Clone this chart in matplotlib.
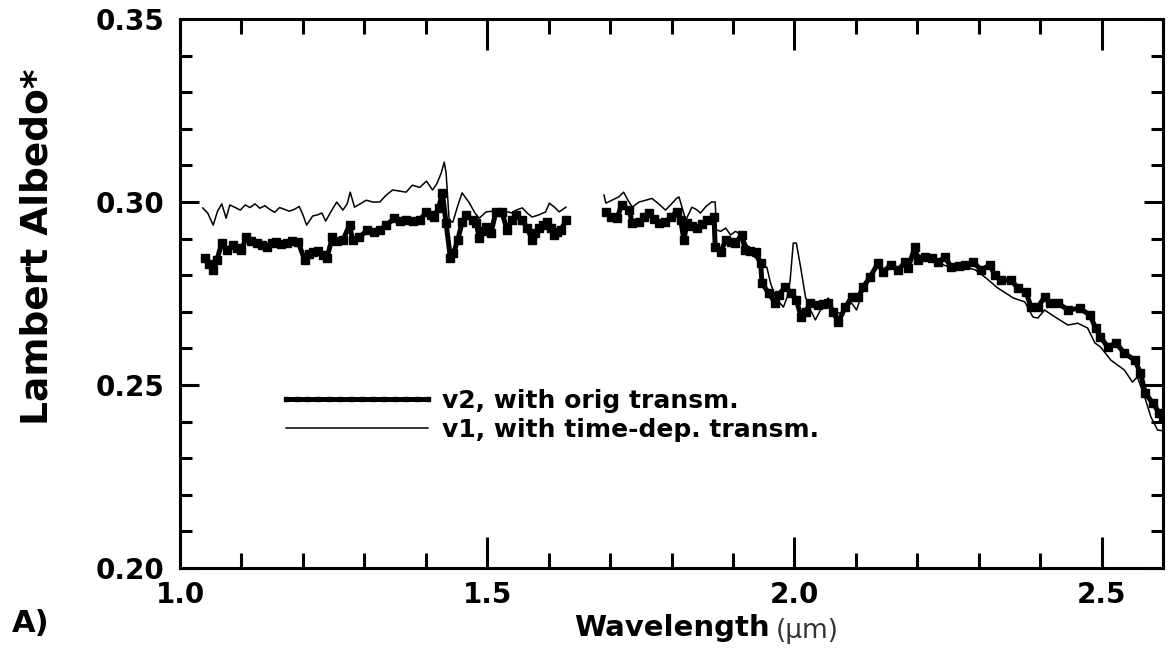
import numpy as np
import matplotlib
matplotlib.use('Agg')
import matplotlib.pyplot as plt
from matplotlib.ticker import MultipleLocator

plt.rcParams.update({
    'font.family': 'DejaVu Sans',
    'font.weight': 'bold',
})

# v2, with original transmission (thick line) -- gap between the two segments
v2_wl = [1.041, 1.047, 1.054, 1.060, 1.068, 1.076, 1.086, 1.093, 1.100, 1.108,
         1.116, 1.125, 1.133, 1.141, 1.149, 1.157, 1.165, 1.174, 1.183, 1.192,
         1.203, 1.210, 1.216, 1.224, 1.232, 1.239, 1.248, 1.256, 1.265, 1.276,
         1.281, 1.292, 1.305, 1.315, 1.325, 1.336, 1.349, 1.358, 1.368, 1.379,
         1.390, 1.401, 1.408, 1.414, 1.421, 1.427, 1.433, 1.440, 1.445, 1.452,
         1.459, 1.466, 1.476, 1.482, 1.487, 1.493, 1.498, 1.506, 1.514, 1.524,
         1.532, 1.540, 1.547, 1.557, 1.565, 1.573, 1.578, 1.584, 1.590, 1.597,
         1.603, 1.609, 1.614, 1.620, 1.628, np.nan,
         1.693, 1.701, 1.711, 1.719, 1.731, 1.736, 1.747, 1.755, 1.763, 1.771,
         1.779, 1.790, 1.799, 1.808, 1.815, 1.820, 1.825, 1.833, 1.841, 1.849,
         1.857, 1.869, 1.871, 1.880, 1.888, 1.896, 1.904, 1.914, 1.920, 1.928,
         1.937, 1.945, 1.947, 1.958, 1.969, 1.974, 1.985, 1.995, 2.003, 2.011,
         2.018, 2.026, 2.039, 2.047, 2.055, 2.063, 2.071, 2.083, 2.093, 2.104,
         2.112, 2.123, 2.136, 2.144, 2.157, 2.169, 2.180, 2.185, 2.196, 2.201,
         2.213, 2.223, 2.234, 2.245, 2.255, 2.267, 2.278, 2.291, 2.304, 2.318,
         2.326, 2.336, 2.352, 2.364, 2.377, 2.385, 2.396, 2.407, 2.416, 2.429,
         2.445, 2.464, 2.481, 2.490, 2.498, 2.510, 2.523, 2.537, 2.554, 2.563,
         2.571, 2.583, 2.594, 2.600]
v2_alb = [0.2847, 0.2830, 0.2814, 0.2842, 0.2888, 0.2869, 0.2882, 0.2875, 0.2869, 0.2904,
          0.2893, 0.2888, 0.2882, 0.2877, 0.2888, 0.2891, 0.2885, 0.2888, 0.2893, 0.2891,
          0.2842, 0.2858, 0.2863, 0.2866, 0.2855, 0.2847, 0.2904, 0.2893, 0.2896, 0.2937,
          0.2896, 0.2904, 0.2924, 0.2918, 0.2924, 0.2937, 0.2956, 0.2948, 0.2950, 0.2947,
          0.2950, 0.2973, 0.2965, 0.2959, 0.2985, 0.3025, 0.2943, 0.2847, 0.2860, 0.2896,
          0.2945, 0.2964, 0.2950, 0.2943, 0.2902, 0.2920, 0.2932, 0.2915, 0.2973, 0.2973,
          0.2924, 0.2950, 0.2964, 0.2950, 0.2930, 0.2896, 0.2915, 0.2929, 0.2938, 0.2945,
          0.2930, 0.2910, 0.2918, 0.2924, 0.2950, np.nan,
          0.2973, 0.2959, 0.2956, 0.2992, 0.2978, 0.2943, 0.2945, 0.2958, 0.2970, 0.2955,
          0.2943, 0.2945, 0.2960, 0.2973, 0.2950, 0.2896, 0.2943, 0.2935, 0.2929, 0.2940,
          0.2950, 0.2959, 0.2877, 0.2863, 0.2896, 0.2892, 0.2888, 0.2910, 0.2869, 0.2866,
          0.2863, 0.2833, 0.2779, 0.2751, 0.2724, 0.2746, 0.2768, 0.2751, 0.2732, 0.2686,
          0.2700, 0.2724, 0.2719, 0.2722, 0.2724, 0.2700, 0.2672, 0.2713, 0.2740, 0.2740,
          0.2768, 0.2795, 0.2833, 0.2809, 0.2828, 0.2814, 0.2836, 0.2820, 0.2877, 0.2842,
          0.2850, 0.2846, 0.2836, 0.2850, 0.2822, 0.2826, 0.2828, 0.2836, 0.2814, 0.2828,
          0.2801, 0.2787, 0.2787, 0.2765, 0.2754, 0.2713, 0.2713, 0.2740, 0.2724, 0.2724,
          0.2705, 0.2710, 0.2691, 0.2656, 0.2631, 0.2604, 0.2615, 0.2587, 0.2568, 0.2533,
          0.2478, 0.2451, 0.2423, 0.2410]

# v1, with time-dependent transmission (thin line)
v1_wl = [1.037, 1.045, 1.054, 1.061, 1.068, 1.075, 1.081, 1.090, 1.098, 1.106,
         1.114, 1.122, 1.130, 1.138, 1.146, 1.154, 1.162, 1.170, 1.178, 1.186,
         1.194, 1.200, 1.206, 1.216, 1.224, 1.231, 1.237, 1.246, 1.255, 1.265,
         1.272, 1.277, 1.284, 1.293, 1.303, 1.314, 1.325, 1.335, 1.346, 1.357,
         1.368, 1.378, 1.390, 1.401, 1.411, 1.418, 1.425, 1.430, 1.433, 1.438,
         1.444, 1.452, 1.459, 1.470, 1.480, 1.487, 1.498, 1.508, 1.519, 1.530,
         1.540, 1.547, 1.557, 1.565, 1.573, 1.584, 1.595, 1.601, 1.610, 1.617,
         1.628, np.nan,
         1.690, 1.693, 1.703, 1.714, 1.722, 1.729, 1.736, 1.747, 1.758, 1.768,
         1.779, 1.790, 1.800, 1.808, 1.812, 1.818, 1.823, 1.833, 1.840, 1.847,
         1.856, 1.865, 1.871, 1.873, 1.880, 1.888, 1.896, 1.904, 1.914, 1.922,
         1.930, 1.942, 1.950, 1.955, 1.961, 1.969, 1.976, 1.982, 1.988, 1.993,
         1.998, 2.003, 2.010, 2.018, 2.026, 2.034, 2.044, 2.055, 2.066, 2.076,
         2.085, 2.093, 2.101, 2.112, 2.123, 2.136, 2.144, 2.157, 2.169, 2.180,
         2.196, 2.213, 2.234, 2.255, 2.278, 2.294, 2.310, 2.331, 2.356, 2.375,
         2.388, 2.396, 2.407, 2.424, 2.445, 2.461, 2.477, 2.489, 2.498, 2.515,
         2.537, 2.550, 2.558, 2.570, 2.580, 2.591, 2.600]
v1_alb = [0.2984, 0.2970, 0.2937, 0.2975, 0.2995, 0.2956, 0.2992, 0.2985, 0.2978, 0.2992,
          0.2985, 0.2995, 0.2983, 0.2990, 0.2980, 0.2972, 0.2985, 0.2980, 0.2975, 0.2980,
          0.2988, 0.2965, 0.2937, 0.2962, 0.2965, 0.2970, 0.2948, 0.2975, 0.3000, 0.2978,
          0.2995, 0.3027, 0.2986, 0.2995, 0.3005, 0.3000, 0.3000, 0.3018, 0.3033, 0.3030,
          0.3027, 0.3046, 0.3040, 0.3057, 0.3033, 0.3050, 0.3079, 0.3109, 0.3080, 0.2950,
          0.2945, 0.2990, 0.3025, 0.3000, 0.2970, 0.2956, 0.2973, 0.2975, 0.2978, 0.2975,
          0.2970, 0.2978, 0.2984, 0.2970, 0.2959, 0.2965, 0.2973, 0.2997, 0.2985, 0.2973,
          0.2986, np.nan,
          0.3019, 0.2997, 0.3005, 0.3014, 0.3027, 0.3005, 0.2986, 0.3000, 0.3005, 0.3010,
          0.2995, 0.2978, 0.2995, 0.3010, 0.3014, 0.2980, 0.2950, 0.2986, 0.2980, 0.2970,
          0.2988, 0.3000, 0.3000, 0.2924, 0.2920, 0.2929, 0.2910, 0.2920, 0.2910, 0.2885,
          0.2861, 0.2836, 0.2822, 0.2822, 0.2779, 0.2740, 0.2725, 0.2713, 0.2740, 0.2787,
          0.2888, 0.2888, 0.2822, 0.2740, 0.2705, 0.2678, 0.2710, 0.2738, 0.2697, 0.2697,
          0.2715, 0.2724, 0.2705, 0.2760, 0.2790, 0.2828, 0.2812, 0.2825, 0.2814, 0.2832,
          0.2860, 0.2848, 0.2834, 0.2820, 0.2822, 0.2815, 0.2795, 0.2765, 0.2738, 0.2727,
          0.2686, 0.2683, 0.2705, 0.2686, 0.2664, 0.2669, 0.2656, 0.2615, 0.2604, 0.2568,
          0.2541, 0.2508, 0.2522, 0.2467, 0.2413, 0.2377, 0.2375]

labels = ['v2, with orig transm.', 'v1, with time-dep. transm.']

fig = plt.figure(figsize=(11.69, 6.56), dpi=100)
ax = fig.add_axes([0.154, 0.134, 0.841, 0.837])

ax.plot(v2_wl, v2_alb, '-', color='black', linewidth=3.6, marker='s', markersize=5.5,
        label=labels[0])
ax.plot(v1_wl, v1_alb, '-', color='black', linewidth=1.1, label=labels[1])

ax.set_xlim(1.0, 2.6)
ax.set_ylim(0.20, 0.35)
ax.xaxis.set_major_locator(MultipleLocator(0.5))
ax.xaxis.set_minor_locator(MultipleLocator(0.1))
ax.yaxis.set_major_locator(MultipleLocator(0.05))
ax.yaxis.set_minor_locator(MultipleLocator(0.01))
ax.xaxis.set_major_formatter(matplotlib.ticker.FormatStrFormatter('%.1f'))
ax.yaxis.set_major_formatter(matplotlib.ticker.FormatStrFormatter('%.2f'))

for s in ax.spines.values():
    s.set_linewidth(2.2)
ax.tick_params(which='both', direction='in', top=True, right=True, width=2.2, labelsize=20)
ax.tick_params(axis='x', which='major', length=22, pad=9)
ax.tick_params(axis='x', which='minor', length=11)
ax.tick_params(axis='y', which='major', length=14, pad=11)
ax.tick_params(axis='y', which='minor', length=8.5)

ax.set_ylabel('Lambert Albedo*', fontsize=27, fontweight='bold')
ax.yaxis.set_label_coords(-0.127, 0.585)
ax.set_xlabel('Wavelength', fontsize=21, fontweight='bold')
ax.xaxis.set_label_coords(0.5, -0.084)
fig.text(776 / 1169, 1 - 631 / 656, '(\u00b5m)', fontsize=19, fontweight='normal',
         color='#333333', ha='left', va='center')
fig.text(12 / 1169, 1 - 623 / 656, 'A)', fontsize=22, fontweight='bold',
         ha='left', va='center')

ax.legend(loc='upper left', bbox_to_anchor=(0.0997, 0.326), frameon=False,
          fontsize=18, handlelength=6.3, handletextpad=0.25, labelspacing=0.2,
          borderpad=0, borderaxespad=0, markerscale=0.6, numpoints=14)

fig.savefig('out.png', dpi=100, facecolor='white')
